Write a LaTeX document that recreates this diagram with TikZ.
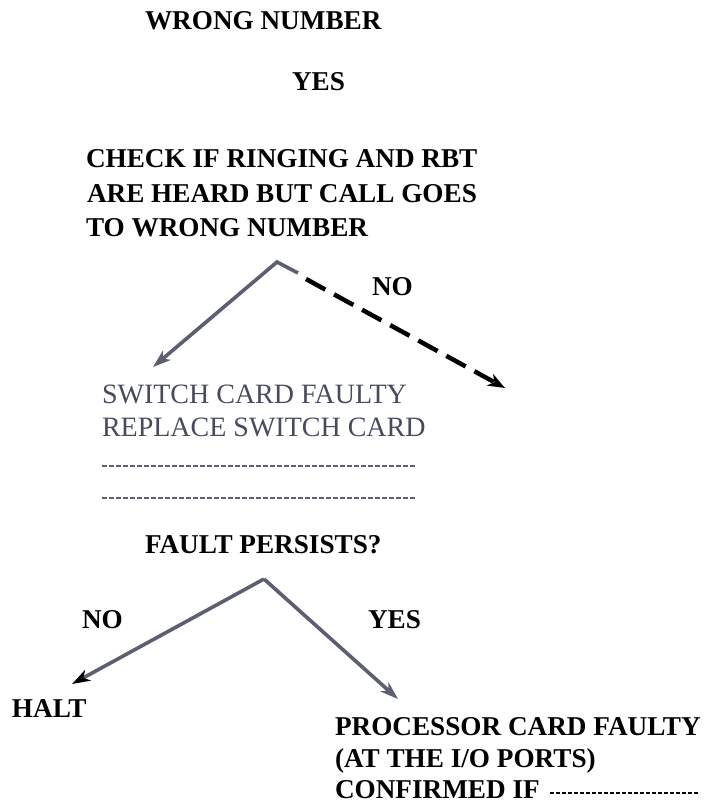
\documentclass[tikz,border=0pt]{standalone}
\usepackage{fontspec}
\setmainfont{Liberation Serif}
\usetikzlibrary{arrows.meta}
\definecolor{linegray}{HTML}{5B5F70}
\definecolor{textgray}{HTML}{474B5E}
\begin{document}
\begin{tikzpicture}[x=1pt,y=-1pt,
  lbl/.style={anchor=base west,inner sep=0pt,outer sep=0pt,font=\fontsize{27.2}{32}\selectfont\bfseries},
  glbl/.style={anchor=base west,inner sep=0pt,outer sep=0pt,text=textgray,font=\fontsize{28}{33}\selectfont},
  conn/.style={draw=linegray,line width=3.6pt,line join=miter,-{Stealth[length=18pt,width=12pt,inset=5pt]}},
  dashconn/.style={draw=black,line width=4.5pt,dash pattern=on 22pt off 10pt,-{Stealth[length=17pt,width=13pt,inset=5pt]}},
  dotline/.style={draw=linegray,line width=1.6pt,dash pattern=on 5pt off 2pt},
  blkdots/.style={draw=black,line width=1.3pt,dash pattern=on 4pt off 2pt}]
\useasboundingbox[fill=white] (0,0) rectangle (712,806);

% texts
\node[lbl] (wn) at (145,29) {WRONG NUMBER};
\node[lbl] (yes1) at (292,90) {YES};
\node[lbl] (chk1) at (86,167) {CHECK IF RINGING AND RBT};
\node[lbl] (chk2) at (87,202) {ARE HEARD BUT CALL GOES};
\node[lbl] (chk3) at (86,236) {TO WRONG NUMBER};
\node[lbl] (no1) at (372,295) {NO};
\node[glbl] (sw1) at (102,403) {SWITCH CARD FAULTY};
\node[glbl] (sw2) at (102,436) {REPLACE SWITCH CARD};
\node[lbl] (fp) at (145,553) {FAULT PERSISTS?};
\node[lbl] (no2) at (82,628) {NO};
\node[lbl] (yes2) at (368,628) {YES};
\node[lbl] (halt) at (12,717) {HALT};
\node[lbl] (pc1) at (335,735) {PROCESSOR CARD FAULTY};
\node[lbl] (pc2) at (335,767) {(AT THE I/O PORTS)};
\node[lbl] (pc3) at (335,798) {CONFIRMED IF};

% coordinates
\coordinate (ap1) at (277,262);
\coordinate (st1) at (298,273);
\coordinate (t1) at (153,367);
\coordinate (d1s) at (306,279);
\coordinate (d1e) at (505,388);
\coordinate (ap2) at (264,579);
\coordinate (t2l) at (72,684);
\coordinate (t2r) at (398,699);
\coordinate (l1s) at (102,466);
\coordinate (l1e) at (415,466);
\coordinate (l2s) at (102,498);
\coordinate (l2e) at (415,498);
\coordinate (cds) at (550,793);
\coordinate (cde) at (700,793);

% connectors
\draw[conn] (st1) -- (ap1) -- (t1);
\draw[dashconn] (d1s) -- (d1e);
\draw[conn,-{Stealth[length=18pt,width=12pt,inset=5pt,black]}] (ap2) -- (t2l);
\draw[conn] (ap2) -- (t2r);

% dotted lines
\draw[dotline] (l1s) -- (l1e);
\draw[dotline] (l2s) -- (l2e);
\draw[blkdots] (cds) -- (cde);
\end{tikzpicture}
\end{document}
